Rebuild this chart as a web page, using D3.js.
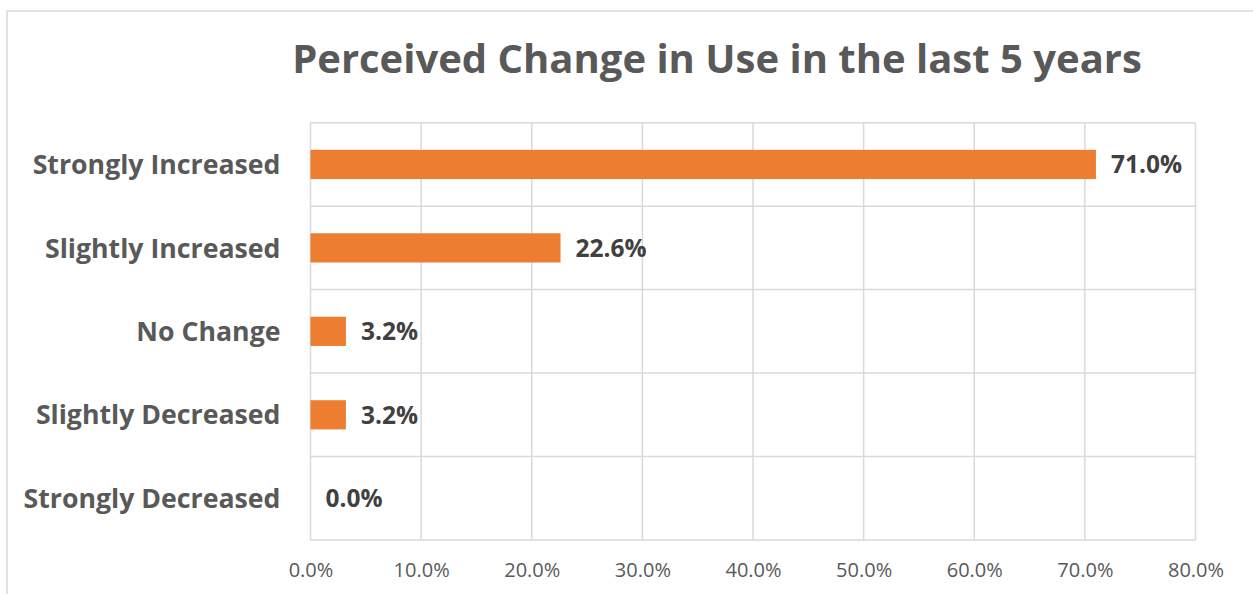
<!DOCTYPE html>
<html><head><meta charset="utf-8">
<script src="https://cdn.jsdelivr.net/npm/d3@7"></script>
<style>body{margin:0;background:#fff;} svg{display:block;font-family:"Open Sans", sans-serif;}</style>
</head><body>
<svg id="chart" width="1253" height="594"></svg>
<script>
const title = "Perceived Change in Use in the last 5 years";
const categories = ["Strongly Increased","Slightly Increased","No Change","Slightly Decreased","Strongly Decreased"];
const values = [71.0, 22.6, 3.2, 3.2, 0.0];
const tickValues = [0,10,20,30,40,50,60,70,80];

const svg = d3.select("#chart");
const W = 1253, H = 594;
const m = {left: 310.5, right: W - 1195.5, top: 122.7, bottom: H - 540};

// outer border
svg.append("rect").attr("x",7).attr("y",11).attr("width",W).attr("height",H)
  .attr("fill","none").attr("stroke","#d9d9d9").attr("stroke-width",1.5);

const x = d3.scaleLinear().domain([0,80]).range([m.left, W - m.right]);
const y = d3.scaleBand().domain(categories).range([m.top, H - m.bottom]).paddingInner(0.65).paddingOuter(0.325);
const yGrid = d3.scaleBand().domain(categories).range([m.top, H - m.bottom]);

// grid
const g = svg.append("g");
g.selectAll(".vg").data(tickValues).join("line")
  .attr("x1",d=>x(d)).attr("x2",d=>x(d)).attr("y1",m.top).attr("y2",H-m.bottom)
  .attr("stroke","#d9d9d9").attr("stroke-width",1.5);
const hLines = categories.map(c=>yGrid(c)).concat([H-m.bottom]);
g.selectAll(".hg").data(hLines).join("line")
  .attr("x1",m.left).attr("x2",W-m.right).attr("y1",d=>d).attr("y2",d=>d)
  .attr("stroke","#d9d9d9").attr("stroke-width",1.5);

// bars
svg.selectAll(".bar").data(categories).join("rect")
  .attr("x",x(0)).attr("y",c=>y(c)).attr("height",y.bandwidth())
  .attr("width",(c,i)=>x(values[i])-x(0)).attr("fill","#ed7d31");

// data labels
svg.selectAll(".dl").data(categories).join("text")
  .attr("x",(c,i)=>x(values[i])+15).attr("y",c=>y(c)+y.bandwidth()/2)
  .attr("dy","0.36em").attr("fill","#404040").attr("font-weight","bold").attr("font-size",24.5)
  .text((c,i)=>values[i].toFixed(1)+"%");

// y axis labels
const ya = svg.append("g").attr("transform",`translate(${m.left},0)`)
  .call(d3.axisLeft(y).tickSize(0).tickPadding(30));
ya.select(".domain").remove();
ya.selectAll("text").attr("fill","#595959").attr("font-weight","bold").attr("font-size",26.7)
  .attr("font-family","'Open Sans', sans-serif").attr("dy","0.36em");

// x axis
const xa = svg.append("g").attr("transform",`translate(0,${H-m.bottom})`)
  .call(d3.axisBottom(x).tickValues(tickValues).tickSize(0).tickPadding(23).tickFormat(d=>d.toFixed(1)+"%"));
xa.select(".domain").remove();
xa.selectAll("text").attr("fill","#595959").attr("font-size",20).attr("font-family","'Open Sans', sans-serif");

// title
svg.append("text").attr("x",717).attr("y",73).attr("text-anchor","middle")
  .attr("fill","#595959").attr("font-weight","bold").attr("font-size",40).text(title);
</script>
</body></html>
